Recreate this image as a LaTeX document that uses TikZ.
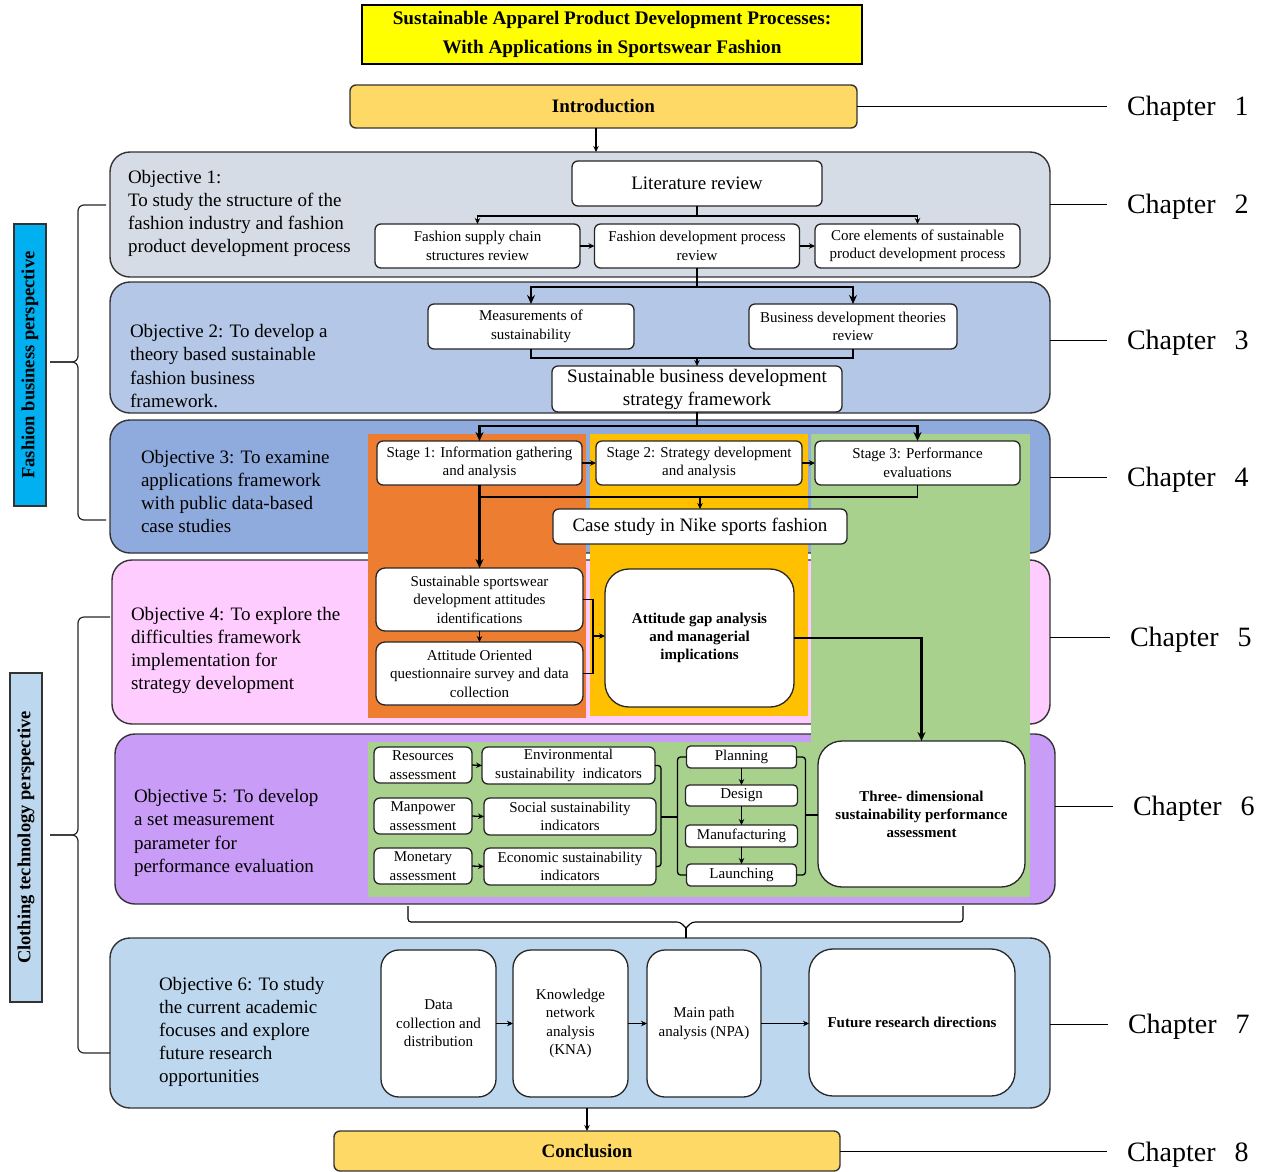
\documentclass[tikz,border=0pt]{standalone}
\usepackage{fontspec}
\setmainfont{Liberation Serif}
\usetikzlibrary{arrows.meta}
\newcommand\fsz[2]{\fontsize{#1}{#2}\selectfont}
\definecolor{titleY}{HTML}{FFFF00}
\definecolor{goldL}{HTML}{FFD966}
\definecolor{obA}{HTML}{D6DCE5}
\definecolor{obB}{HTML}{B4C7E7}
\definecolor{obC}{HTML}{8FAADC}
\definecolor{obD}{HTML}{FFCCFF}
\definecolor{obE}{HTML}{C99CF8}
\definecolor{obF}{HTML}{BDD7EE}
\definecolor{panO}{HTML}{ED7D31}
\definecolor{panY}{HTML}{FFC000}
\definecolor{panG}{HTML}{A9D18E}
\definecolor{fbpC}{HTML}{00B0F0}
\definecolor{ctpC}{HTML}{BDD7EE}
\begin{document}
\begin{tikzpicture}[x=1pt,y=-1pt,
  every node/.style={outer sep=0pt},
  edge/.style={draw=black, line width=1.3pt},
  bold edge/.style={draw=black, line width=2.6pt},
  tip/.style={-{Stealth[length=6pt,width=5.5pt]}},
  big tip/.style={-{Stealth[length=9pt,width=8pt]}},
  objbox/.style={draw=black!80, line width=1.4pt, rounded corners=20pt},
  objtext/.style={anchor=west, align=left, inner sep=0pt, font=\fsz{19}{23.2}},
  wbox/.style={draw=black!85, line width=1.3pt, fill=white, rounded corners=6pt,
               align=center, inner sep=1pt, font=\fsz{15}{18.5}},
  lbox/.style={wbox, font=\fsz{19}{23}},
  tallbox/.style={wbox, rounded corners=18pt},
  boldbox/.style={wbox, rounded corners=24pt, font=\bfseries\fsz{15}{18}},
  goldbox/.style={draw=black!80, line width=1.4pt, fill=goldL, rounded corners=6pt,
                  font=\bfseries\fsz{19}{22}},
  sidebox/.style={draw=black!80, line width=1.2pt, rotate=90, inner sep=0pt,
                  font=\bfseries\fsz{18.5}{20}},
  chap/.style={anchor=west, inner xsep=20pt, inner ysep=0pt, font=\fsz{28}{30}},
  brace line/.style={draw=black!85, line width=1.2pt, rounded corners=6pt}
]
\useasboundingbox (0,0) rectangle (1271,1171);

% objective bands
\node[objbox, fill=obA, minimum width=940, minimum height=125] (ob1) at (580,214.5) {};
\node[objbox, fill=obB, minimum width=940, minimum height=131] (ob2) at (580,347.5) {};
\node[objbox, fill=obC, minimum width=940, minimum height=133] (ob3) at (580,486.5) {};
\node[objbox, fill=obD, minimum width=938, minimum height=164] (ob4) at (581,642) {};
\node[objbox, fill=obE, minimum width=940, minimum height=170] (ob5) at (585,819) {};
\node[objbox, fill=obF, minimum width=940, minimum height=170] (ob6) at (580,1023) {};

% stage panels
\fill[panO] (368,434) rectangle (586,718);
\fill[panY] (590,434) rectangle (808,716);
\fill[panG] (811,434) rectangle (1030,897);
\fill[panG] (368,742) rectangle (1030,897);

% title, introduction, conclusion
\node[draw=black, line width=1.5pt, fill=titleY, minimum width=500, minimum height=59,
      align=center, font=\bfseries\fsz{19.2}{29}] (title) at (612,34.5)
  {Sustainable Apparel Product Development Processes:\\With Applications in Sportswear Fashion};
\node[goldbox, minimum width=507, minimum height=43] (intro) at (603.5,106.5) {Introduction};
\node[goldbox, minimum width=506, minimum height=40] (concl) at (587,1151) {Conclusion};

% objective texts
\node[objtext] (t1) at (128,213.5) {Objective 1:\\To study the structure of the\\fashion industry and fashion\\product development process};
\node[objtext] (t2) at (130,366) {Objective 2: To develop a\\theory based sustainable\\fashion business\\framework.};
\node[objtext] (t3) at (141,491.5) {Objective 3: To examine\\applications framework\\with public data-based\\case studies};
\node[objtext] (t4) at (131,650.5) {Objective 4: To explore the\\difficulties framework\\implementation for\\strategy development};
\node[objtext] (t5) at (134,833) {Objective 5: To develop\\a set measurement\\parameter for\\performance evaluation};
\node[objtext] (t6) at (159,1032) {Objective 6: To study\\the current academic\\focuses and explore\\future research\\opportunities};

% chapter 2 content
\node[lbox, minimum width=250, minimum height=45] (lit) at (697,183.5) {Literature review};
\node[wbox, minimum width=205, minimum height=44] (fsc) at (477.5,246) {Fashion supply chain\\structures review};
\node[wbox, minimum width=205, minimum height=44] (fdp) at (697,246) {Fashion development process\\review};
\node[wbox, minimum width=205, minimum height=44] (core) at (917.5,246) {Core elements of sustainable\\product development process};

% chapter 3 content
\node[wbox, minimum width=206, minimum height=45] (meas) at (531,326.5) {Measurements of\\sustainability};
\node[wbox, minimum width=208, minimum height=45] (bdt) at (853,326.5) {Business development theories\\review};
\node[lbox, minimum width=290, minimum height=46] (sbd) at (697,389) {Sustainable business development\\strategy framework};

% chapter 4 content
\node[wbox, minimum width=205, minimum height=44] (st1) at (479.5,463) {Stage 1: Information gathering\\and analysis};
\node[wbox, minimum width=206, minimum height=44] (st2) at (699,463) {Stage 2: Strategy development\\and analysis};
\node[wbox, minimum width=205, minimum height=44] (st3) at (917.5,463) {Stage 3: Performance\\evaluations};
\node[lbox, minimum width=294, minimum height=35] (case) at (700,526.5) {Case study in Nike sports fashion};

% chapter 5 content
\node[wbox, rounded corners=9pt, minimum width=207, minimum height=63] (sw) at (479.5,599.5) {Sustainable sportswear\\development attitudes\\identifications};
\node[wbox, rounded corners=9pt, minimum width=207, minimum height=63] (aoq) at (479.5,673.5) {Attitude Oriented\\questionnaire survey and data\\collection};
\node[boldbox, minimum width=189, minimum height=138] (gap) at (699.5,638) {Attitude gap analysis\\and managerial\\implications};

% chapter 6 content
\node[wbox, minimum width=98, minimum height=36] (res) at (423,765) {Resources\\assessment};
\node[wbox, minimum width=173, minimum height=37] (env) at (568.5,765.5) {Environmental\\sustainability\ \ indicators};
\node[wbox, minimum width=98, minimum height=36] (man) at (423,816) {Manpower\\assessment};
\node[wbox, minimum width=172, minimum height=37] (soc) at (570,816.5) {Social sustainability\\indicators};
\node[wbox, minimum width=98, minimum height=36] (mon) at (423,866) {Monetary\\assessment};
\node[wbox, minimum width=172, minimum height=37] (eco) at (570,866.5) {Economic sustainability\\indicators};
\node[wbox, rounded corners=4pt, minimum width=110, minimum height=22] (plan) at (741.5,757) {Planning};
\node[wbox, rounded corners=4pt, minimum width=112, minimum height=21] (design) at (741.5,795.5) {Design};
\node[wbox, rounded corners=4pt, minimum width=112, minimum height=22] (manu) at (741.5,836) {Manufacturing};
\node[wbox, rounded corners=4pt, minimum width=110, minimum height=22] (launch) at (741.5,875) {Launching};
\node[boldbox, minimum width=207, minimum height=146] (three) at (921.5,814) {Three- dimensional\\sustainability performance\\assessment};

% chapter 7 content
\node[tallbox, minimum width=115, minimum height=147] (dc) at (438.5,1023.5) {Data\\collection and\\distribution};
\node[tallbox, minimum width=115, minimum height=147] (kna) at (570.5,1023.5) {Knowledge\\network\\analysis\\(KNA)};
\node[tallbox, minimum width=114, minimum height=147] (mpa) at (704,1023.5) {Main path\\analysis (NPA)};
\node[tallbox, rounded corners=24pt, minimum width=206, minimum height=147, font=\bfseries\fsz{15}{18}] (frd) at (912,1022.5) {Future research directions};

% side perspectives
\node[sidebox, fill=fbpC, minimum width=282, minimum height=32] (fbp) at (30,365) {Fashion business perspective};
\node[sidebox, fill=ctpC, minimum width=329, minimum height=32] (ctp) at (26,837.5) {Clothing technology perspective};

% chapter labels
\node[chap] (ch1) at (1107,109) {Chapter\hspace{19pt}1};
\node[chap] (ch2) at (1107,207) {Chapter\hspace{19pt}2};
\node[chap] (ch3) at (1107,343) {Chapter\hspace{19pt}3};
\node[chap] (ch4) at (1107,480) {Chapter\hspace{19pt}4};
\node[chap] (ch5) at (1110,640) {Chapter\hspace{19pt}5};
\node[chap] (ch6) at (1113,809) {Chapter\hspace{19pt}6};
\node[chap] (ch7) at (1108,1027) {Chapter\hspace{19pt}7};
\node[chap] (ch8) at (1107,1155) {Chapter\hspace{19pt}8};

\draw[edge, line width=1pt] (intro.east) -- (intro.east -| ch1.west);
\draw[edge, line width=1pt] (ob1.east |- 0,204) -- (ch2.west |- 0,204);
\draw[edge, line width=1pt] (ob2.east |- 0,340) -- (ch3.west |- 0,340);
\draw[edge, line width=1pt] (ob3.east |- 0,477) -- (ch4.west |- 0,477);
\draw[edge, line width=1pt] (ob4.east |- 0,637) -- (ch5.west |- 0,637);
\draw[edge, line width=1pt] (ob5.east |- 0,806) -- (ch6.west |- 0,806);
\draw[edge, line width=1pt] (ob6.east |- 0,1024) -- (ch7.west |- 0,1024);
\draw[edge, line width=1pt] (concl.east) -- (concl.east -| ch8.west);

% flow: introduction to literature review
\coordinate (i0) at ([xshift=-7.5pt]intro.south);
\draw[edge, tip] (i0) -- (i0 |- ob1.north);

% literature review branches
\coordinate (j1) at (697,216);
\draw[edge] (lit.south) -- (j1);
\draw[edge, tip] (j1) -| (fsc.north);
\draw[edge, tip] (j1) -| (core.north);
\draw[edge, tip] (fsc.east) -- (fdp.west);
\draw[edge, tip] (fdp.east) -- (core.west);

% to chapter 3
\coordinate (j2) at (697,287);
\draw[bold edge] (fdp.south) -- (j2);
\draw[bold edge, big tip] (j2) -| (meas.north);
\draw[bold edge, big tip] (j2) -| (bdt.north);
\coordinate (j3) at (697,358);
\draw[edge] (meas.south) |- (j3);
\draw[edge] (bdt.south) |- (j3);
\draw[edge, tip] (j3) -- (sbd.north);

% to chapter 4
\coordinate (j4) at (697,426);
\draw[bold edge] (sbd.south) -- (j4);
\draw[bold edge, big tip] (j4) -| (st1.north);
\draw[bold edge, big tip] (j4) -| (st3.north);
\draw[edge, tip] (st1.east) -- (st2.west);
\draw[edge, tip] (st2.east) -- (st3.west);
\coordinate (j5) at (700,497);
\draw[edge] (st3.south) |- (st1.south |- j5);
\draw[edge, tip] (j5) -- (case.north);
\draw[bold edge, big tip] (st1.south) -- (sw.north);

% chapter 5 flow
\draw[edge, tip] (sw.south) -- (aoq.north);
\coordinate (j6) at (593,636);
\draw[edge] (sw.east) -| (j6);
\draw[edge] (aoq.east) -| (j6);
\draw[edge, tip] (j6) -- (j6 -| gap.west);
\draw[bold edge, big tip] (gap.east) -| (three.north);

% chapter 6 flow
\draw[edge, tip] (res.east) -- (env.west);
\draw[edge, tip] (man.east) -- (soc.west);
\draw[edge, tip] (mon.east) -- (eco.west);
\draw[edge, rounded corners=3pt] (env.east) -- ++(6,0) |- (eco.east);
\coordinate (k1) at (661,817);
\draw[edge] (k1) -- (678,817);
\draw[edge, rounded corners=3pt] (plan.west) -- ++(-9,0) |- (launch.west);
\draw[edge, tip] (plan.south) -- (design.north);
\draw[edge, tip] (design.south) -- (manu.north);
\draw[edge, tip] (manu.south) -- (launch.north);
\draw[edge, rounded corners=3pt] (plan.east) -- ++(9,0) |- (launch.east);
\coordinate (k2) at (806,815);
\draw[edge] (k2) -- (k2 -| three.west);

% bracket joining chapter 6 to chapter 7
\coordinate (notch) at (686,928);
\draw[edge, line width=1.1pt, rounded corners=3pt] (408,906) -- (408,922) -- (680,922) -- (notch);
\draw[edge, line width=1.1pt, rounded corners=3pt] (963,906) -- (963,922) -- (692,922) -- (notch);
\draw[edge, line width=1.1pt] (notch) -- (notch |- ob6.north);

% chapter 7 flow
\draw[edge, tip] (dc.east) -- (kna.west);
\draw[edge, tip] (kna.east) -- (mpa.west);
\draw[edge, tip] (mpa.east) -- (mpa.east -| frd.west);
\draw[edge, tip] (concl.north |- ob6.south) -- (concl.north);

% perspective braces
\draw[brace line] (106,205) -- (78,205) -- (78,362) -- (50,362);
\draw[brace line] (50,362) -- (78,362) -- (78,520) -- (106,520);
\draw[brace line] (110,617) -- (78,617) -- (78,835) -- (50,835);
\draw[brace line] (50,835) -- (78,835) -- (78,1053) -- (110,1053);
\end{tikzpicture}
\end{document}
